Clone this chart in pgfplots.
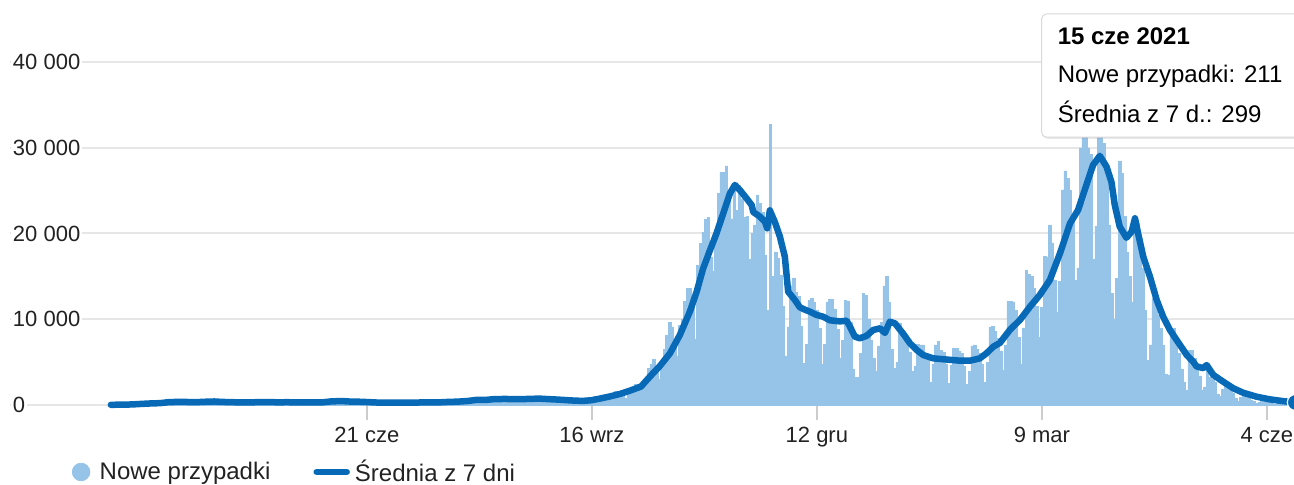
\documentclass[border=0pt]{standalone}
\usepackage{pgfplots}
\pgfplotsset{compat=1.18}
\usepackage{pgfplotstable}
\usepackage{fontspec}
\setmainfont{Liberation Sans}
\usetikzlibrary{shadows}
\definecolor{barblue}{RGB}{150,195,232}
\definecolor{lineblue}{RGB}{8,106,182}
\definecolor{gridgray}{RGB}{230,230,230}
\definecolor{tickgray}{RGB}{204,204,204}
\definecolor{txt}{RGB}{34,34,34}

\pgfplotstableread[row sep=\\]{
d v\\
-99 36\\
-98 15\\-97 27\\-96 27\\-95 40\\-94 44\\-93 111\\-92 111\\
-91 98\\-90 115\\-89 152\\-88 150\\-87 170\\-86 168\\-85 249\\
-84 224\\-83 193\\-82 256\\-81 243\\-80 392\\-79 437\\-78 244\\
-77 475\\-76 311\\-75 357\\-74 370\\-73 380\\-72 336\\-71 318\\
-70 401\\-69 268\\-68 260\\-67 380\\-66 336\\-65 545\\-64 363\\
-63 461\\-62 545\\-61 263\\-60 313\\-59 381\\-58 284\\-57 460\\
-56 263\\-55 263\\-54 311\\-53 312\\-52 381\\-51 245\\-50 306\\
-49 316\\-48 233\\-47 307\\-46 310\\-45 330\\-44 291\\-43 333\\
-42 595\\-41 215\\-40 291\\-39 350\\-38 325\\-37 320\\-36 378\\
-35 322\\-34 278\\-33 252\\-32 262\\-31 443\\-30 395\\-29 345\\
-28 237\\-27 343\\-26 205\\-25 395\\-24 253\\-23 241\\-22 360\\
-21 294\\-20 380\\-19 292\\-18 361\\-17 284\\-16 576\\-15 575\\
-14 407\\-13 599\\-12 282\\-11 359\\-10 440\\-9 328\\-8 440\\
-7 407\\-6 407\\-5 314\\-4 269\\-3 506\\-2 371\\-1 301\\
0 247\\1 231\\2 210\\3 331\\4 311\\5 293\\6 288\\
7 232\\8 260\\9 244\\10 371\\11 300\\12 302\\13 260\\
14 193\\15 262\\16 290\\17 267\\18 299\\19 358\\20 317\\
21 299\\22 290\\23 268\\24 304\\25 303\\26 300\\27 360\\
28 337\\29 326\\30 383\\31 445\\32 418\\33 337\\34 358\\
35 443\\36 584\\37 512\\38 615\\39 657\\40 658\\41 512\\
42 548\\43 680\\44 457\\45 640\\46 726\\47 809\\48 843\\
49 599\\50 832\\51 597\\52 513\\53 624\\54 832\\55 843\\
56 619\\57 545\\58 512\\59 745\\60 811\\61 903\\62 826\\
63 694\\64 562\\65 547\\66 887\\67 751\\68 802\\69 689\\
70 564\\71 508\\72 550\\73 624\\74 657\\75 657\\76 579\\
77 403\\78 270\\79 377\\80 599\\81 597\\82 601\\83 517\\
84 470\\85 272\\86 600\\87 816\\88 974\\89 1002\\90 1002\\
91 744\\92 568\\93 758\\94 1136\\95 1136\\96 1587\\97 1584\\
98 1350\\99 1306\\100 757\\101 1326\\102 1552\\103 1967\\104 2367\\
105 2006\\106 1934\\107 2236\\108 3003\\109 4280\\110 4739\\111 5300\\
112 4178\\113 2996\\114 5068\\115 6526\\116 8099\\117 9622\\118 9105\\
119 7482\\120 5709\\121 9291\\122 10040\\123 12107\\124 13632\\125 13628\\
126 11742\\127 7709\\128 16300\\129 18820\\130 20156\\131 21629\\132 21897\\
133 17171\\134 15578\\135 19364\\136 24692\\137 27143\\138 27086\\139 27875\\
140 24785\\141 21713\\142 25221\\143 22683\\144 25571\\145 24051\\146 21854\\
147 22000\\148 17000\\149 20000\\150 21000\\151 24500\\152 23500\\153 22500\\
154 17500\\155 11000\\156 32733\\157 15002\\158 17856\\159 17067\\160 15178\\
161 11483\\162 5733\\163 9105\\164 13855\\165 14838\\166 13110\\167 12697\\
168 9176\\169 4896\\170 7110\\171 12168\\172 12454\\173 12025\\174 11101\\
175 8978\\176 4723\\177 7035\\178 11951\\179 12335\\180 12330\\181 11200\\
182 8833\\183 5430\\184 7567\\185 12203\\186 12146\\187 9600\\188 4200\\
189 3200\\190 3211\\191 6000\\192 13000\\193 12800\\194 10000\\195 7500\\
196 5500\\197 3900\\198 6900\\199 9600\\200 13900\\201 15000\\202 12000\\
203 6500\\204 4300\\205 5000\\206 9500\\207 8800\\208 8000\\209 7000\\
210 6200\\211 3900\\212 4500\\213 7100\\214 7000\\215 7000\\216 6000\\
217 5200\\218 2600\\219 4800\\220 7000\\221 7400\\222 6400\\223 6200\\
224 4800\\225 2500\\226 4600\\227 6600\\228 6600\\229 6300\\230 6000\\
231 4500\\232 2400\\233 3900\\234 6900\\235 7000\\236 6500\\237 6000\\
238 4800\\239 2600\\240 5000\\241 9100\\242 9200\\243 8600\\244 7800\\
245 6300\\246 4000\\247 7000\\248 12100\\249 12100\\250 12000\\251 11000\\
252 7900\\253 4800\\254 9000\\255 15700\\256 15250\\257 15000\\258 13600\\
259 11500\\260 7900\\261 11400\\262 17300\\263 17200\\264 21000\\265 18900\\
266 14600\\267 10800\\268 14400\\269 25100\\270 27300\\271 26400\\272 25000\\
273 21800\\274 14500\\275 16000\\276 29978\\277 34151\\278 35143\\279 29978\\
280 29253\\281 16965\\282 20870\\283 32891\\284 35251\\285 30546\\286 28000\\
287 21000\\288 13000\\289 10000\\290 14800\\291 28400\\292 27000\\293 22000\\
294 17800\\295 15000\\296 12000\\297 21283\\298 21150\\299 17500\\300 16000\\
301 11000\\302 5200\\303 7000\\304 12500\\305 12800\\306 10500\\307 9000\\
308 7000\\309 3600\\310 3500\\311 8900\\312 8900\\313 7300\\314 6000\\
315 4200\\316 2700\\317 1700\\318 6400\\319 6400\\320 5500\\321 4600\\
322 3400\\323 1700\\324 2100\\325 4200\\326 3200\\327 3000\\328 2600\\
329 1300\\330 1000\\331 1800\\332 2500\\333 2300\\334 2000\\335 1400\\
336 800\\337 420\\338 900\\339 1300\\340 1200\\341 1000\\342 600\\
343 400\\344 170\\345 300\\346 550\\347 460\\348 400\\349 500\\
350 300\\351 100\\352 180\\353 390\\354 420\\355 380\\356 360\\
357 210\\358 122\\359 211\\
}\daily

\begin{document}
\begin{tikzpicture}
\useasboundingbox (0pt,0pt) rectangle (647pt,242.5pt);
\clip (0pt,0pt) rectangle (647pt,242.5pt);
\begin{axis}[
  at={(5pt,40pt)}, anchor=south west,
  scale only axis, width=642pt, height=202.5pt,
  xmin=-138, xmax=358.5, ymin=0, ymax=47230,
  clip=false,
  axis x line*=bottom, axis y line*=left,
  axis line style={draw=none},
  tick align=outside,
  xtick={0,87,174,261,348},
  xticklabels={21 cze,16 wrz,12 gru,9 mar,4 cze},
  ytick={0,10000,20000,30000,40000},
  yticklabels={0,10 000,20 000,30 000,40 000},
  scaled y ticks=false,
  ymajorgrids,
  major grid style={draw=gridgray, line width=1pt},
  major tick length=7.5pt,
  xtick style={draw=tickgray, line width=1pt},
  ytick style={draw=none},
  tick label style={font=\fontsize{11}{13}\selectfont, text=txt},
  yticklabel style={anchor=west, xshift=7.8pt, fill=white, inner xsep=1pt, inner ysep=1pt},
  legend columns=2,
  legend style={at={(axis description cs:0.0479,-0.1654)}, anchor=west,
    draw=none, fill=none, inner sep=0pt,
    nodes={inner sep=2pt, text=txt},
    font=\fontsize{12}{14}\selectfont,
    /tikz/every odd column/.append style={column sep=0.5pt},
    /tikz/every even column/.append style={column sep=19.5pt}},
]
\addplot[ybar, bar width=1, fill=barblue, draw=barblue, line width=0.25pt, forget plot]
  table[x=d, y=v] {\daily};
\addplot[lineblue, line width=3.25pt, line join=round, line cap=round, forget plot] coordinates {
(-99,20) (-96,35) (-93,43) (-90,78) (-87,130) (-84,175) (-80,215) (-77,320) (-73,369) (-70,353)
(-66,328) (-63,373) (-59,410) (-56,358) (-52,325) (-49,305) (-45,292) (-42,343) (-38,343) (-35,314)
(-31,322) (-28,316) (-24,310) (-21,299) (-17,316) (-14,411) (-10,463) (-7,408) (-3,382) (0,345)
(4,286) (7,271) (11,284) (14,276) (18,268) (21,299) (25,306) (28,309) (32,367) (35,387)
(39,467) (42,584) (46,593) (49,679) (53,703) (56,694) (60,674) (63,719) (67,739) (70,686)
(74,628) (77,568) (81,497) (84,490) (87,560) (90,740) (94,1000) (98,1300) (102,1700) (106,2150)
(109.4,3300) (113.3,4550) (117.2,6030) (121,8160) (124.9,10900) (127.5,13200) (130,15900) (132.6,18000)
(135.2,20020) (137.8,22360) (140.4,24690) (142.3,25660) (144.2,25070) (146.8,24100) (148.8,23300)
(149.4,22500) (152,21960) (153.9,21380) (154.8,20600) (155.8,22700) (157.8,21300) (159.7,19630)
(161.6,17300) (162.9,13210) (165.5,12240) (167.4,11400) (168.7,11200) (171.3,10880) (173.9,10500)
(176.4,10300) (179,9880) (182.9,9750) (185.5,9830) (186.8,9130) (188.7,7970) (190.6,7780) (193.2,8060)
(195.8,8750) (198.4,8940) (200.3,8400) (202.2,9710) (204.2,9520) (207.4,8300) (210,7190) (212.6,6410)
(215.1,5830) (219,5440) (224.2,5300) (229.3,5170) (233.2,5170) (237,5440) (239.6,6030) (242.2,6800)
(244.8,7250) (248.6,8750) (252.5,9910) (256.4,11460) (260.2,12830) (264.1,14580) (268,17690)
(271.9,21190) (275,22740) (277.6,25100) (280.8,27990) (283.4,29050) (286,27790) (287.9,26000)
(289.2,23300) (291.1,20800) (293.7,19500) (295.7,20210) (297,21770) (298.2,20020) (300.2,17300)
(302.8,14960) (305.4,12240) (307.9,10300) (310.5,8750) (314.4,7000) (317,5830) (319.5,5050)
(320.8,4500) (323.4,4300) (324.7,4660) (327.3,3500) (331.1,2720) (335,1950) (338.8,1430) (344,970)
(349.1,660) (354.3,450) (359,299)
};
\addplot[only marks, mark=*, mark size=4pt, mark options={fill=lineblue, draw=white, line width=0.6pt}, forget plot]
  coordinates {(359,299)};
\addlegendimage{legend image code/.code={\fill[barblue] (0pt,0pt) circle (4.4pt); \path (6.6pt,0pt);}}
\addlegendentry{Nowe przypadki}
\addlegendimage{legend image code/.code={\draw[lineblue, line width=3.25pt, line cap=round] (0pt,0pt) -- (15pt,0pt);}}
\addlegendentry{Średnia z 7 dni}
\end{axis}
\path[fill=white, draw=gray!30, line width=0.5pt, rounded corners=2.5pt,
  drop shadow={shadow xshift=0.4pt, shadow yshift=-0.8pt, opacity=0.18}]
  (520.8pt,173.9pt) rectangle (690pt,235.5pt);
\node[anchor=base west, inner sep=0pt, font=\fontsize{12}{14}\selectfont\bfseries, text=black] at (528.7pt,220pt) {15 cze 2021};
\node[anchor=base west, inner sep=0pt, font=\fontsize{12}{14}\selectfont, text=black] at (528.7pt,201.2pt) {Nowe przypadki: 211};
\node[anchor=base west, inner sep=0pt, font=\fontsize{12}{14}\selectfont, text=black] at (528.7pt,181.2pt) {Średnia z 7 d.: 299};
\end{tikzpicture}
\end{document}
